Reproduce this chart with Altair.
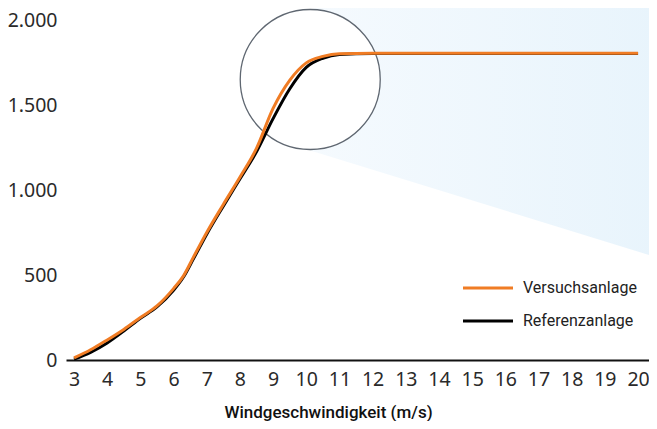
import altair as alt
import pandas as pd

# --- data ---
wind = [3, 3.5, 4, 4.5, 5, 5.5, 6, 6.3, 6.6, 7, 7.5, 8, 8.5, 9, 9.5, 10, 10.5, 11,
        12, 13, 14, 15, 16, 17, 18, 19, 20]
versuch = [12, 60, 118, 180, 250, 318, 420, 495, 605, 750, 915, 1075, 1245, 1480,
           1645, 1748, 1786, 1802, 1805, 1805, 1805, 1805, 1805, 1805, 1805, 1805, 1805]
referenz = [5, 45, 100, 170, 245, 312, 410, 488, 595, 740, 905, 1065, 1225, 1420,
            1594, 1721, 1775, 1797, 1803, 1803, 1803, 1803, 1803, 1803, 1803, 1803, 1803]
series = ["Versuchsanlage", "Referenzanlage"]
colors = ["#f07c24", "#000000"]
x_ticks = list(range(3, 21))
y_ticks = [0, 500, 1000, 1500, 2000]

# magnifier decoration (data coords)
lens_x, lens_y = [10.12], [1650]
fan_x = [10.12, 20.6]
fan_top = [2062, 2623]
fan_bottom = [1232, 602]

W, H = 583, 352
xscale = alt.Scale(domain=[2.759, 20.33], nice=False, zero=False)
yscale = alt.Scale(domain=[0, 2070.6], nice=False, zero=True)

df = pd.DataFrame({"wind": wind * 2,
                   "power": versuch + referenz,
                   "series": [series[0]] * len(wind) + [series[1]] * len(wind)})

xaxis = alt.Axis(values=x_ticks, title="Windgeschwindigkeit (m/s)", grid=False, ticks=False,
                 domain=True, domainColor="#111111", domainWidth=2,
                 labelFont="Noto Sans", labelFontSize=19.5, labelColor="#2a2a2a",
                 labelPadding=10, labelFlush=False, labelOverlap=False, labelSeparation=0,
                 titleFont="Roboto", titleFontSize=17, titleFontWeight=500,
                 titleColor="#111111", titleX=262, titleY=57, titleBaseline="alphabetic",
                 titleAlign="center", titleAnchor="start")
yaxis = alt.Axis(values=y_ticks, title=None, grid=False, ticks=False, domain=False,
                 labelFont="Noto Sans", labelFontSize=19.5, labelColor="#2a2a2a",
                 labelPadding=9, labelOverlap=False,
                 labelExpr="replace(format(datum.value, ','), ',', '.')")

fan = alt.Chart(pd.DataFrame({"x": fan_x, "top": fan_top, "bottom": fan_bottom})).mark_area(
    clip=False,
    color=alt.LinearGradient(gradient="linear",
                             stops=[alt.GradientStop(color="#f5fafe", offset=0),
                                    alt.GradientStop(color="#e8f4fc", offset=1)],
                             x1=0, x2=1, y1=0, y2=0)
).encode(
    x=alt.X("x:Q", scale=xscale, axis=xaxis),
    y=alt.Y("top:Q", scale=yscale, axis=yaxis),
    y2="bottom:Q",
)

lens = alt.Chart(pd.DataFrame({"x": lens_x, "y": lens_y})).mark_point(
    shape="circle", size=19600, filled=True, color="white", fillOpacity=1,
    stroke="#5f6771", strokeWidth=1.3, strokeOpacity=1, opacity=1
).encode(x=alt.X("x:Q", scale=xscale, axis=xaxis), y=alt.Y("y:Q", scale=yscale, axis=yaxis))

def line(name, color):
    return alt.Chart(df).transform_filter(alt.datum.series == name).mark_line(
        color=color, strokeWidth=3, interpolate="monotone"
    ).encode(x=alt.X("wind:Q", scale=xscale, axis=xaxis),
             y=alt.Y("power:Q", scale=yscale, axis=yaxis))

legend_layers = []
leg_y = [280, 313]
for name, color, yy in zip(series, colors, leg_y):
    ld = pd.DataFrame({"label": [name]})
    legend_layers.append(alt.Chart(ld).mark_rule(color=color, strokeWidth=3).encode(
        x=alt.value(397), x2=alt.value(447), y=alt.value(yy)))
    legend_layers.append(alt.Chart(ld).mark_text(
        align="left", baseline="middle", font="Roboto", fontSize=16, color="#222222"
    ).encode(x=alt.value(457), y=alt.value(yy), text="label:N"))

chart = alt.layer(fan, lens, line(series[1], colors[1]), line(series[0], colors[0]),
                  *legend_layers).properties(
    width=W, height=H,
    autosize=alt.AutoSizeParams(type="none"),
    padding={"left": 58, "top": 0, "right": 0, "bottom": 61},
).configure_view(stroke=None).configure_axis(labelOverlap=False)

chart.save("out.html", embed_options={"renderer": "svg", "actions": False})
